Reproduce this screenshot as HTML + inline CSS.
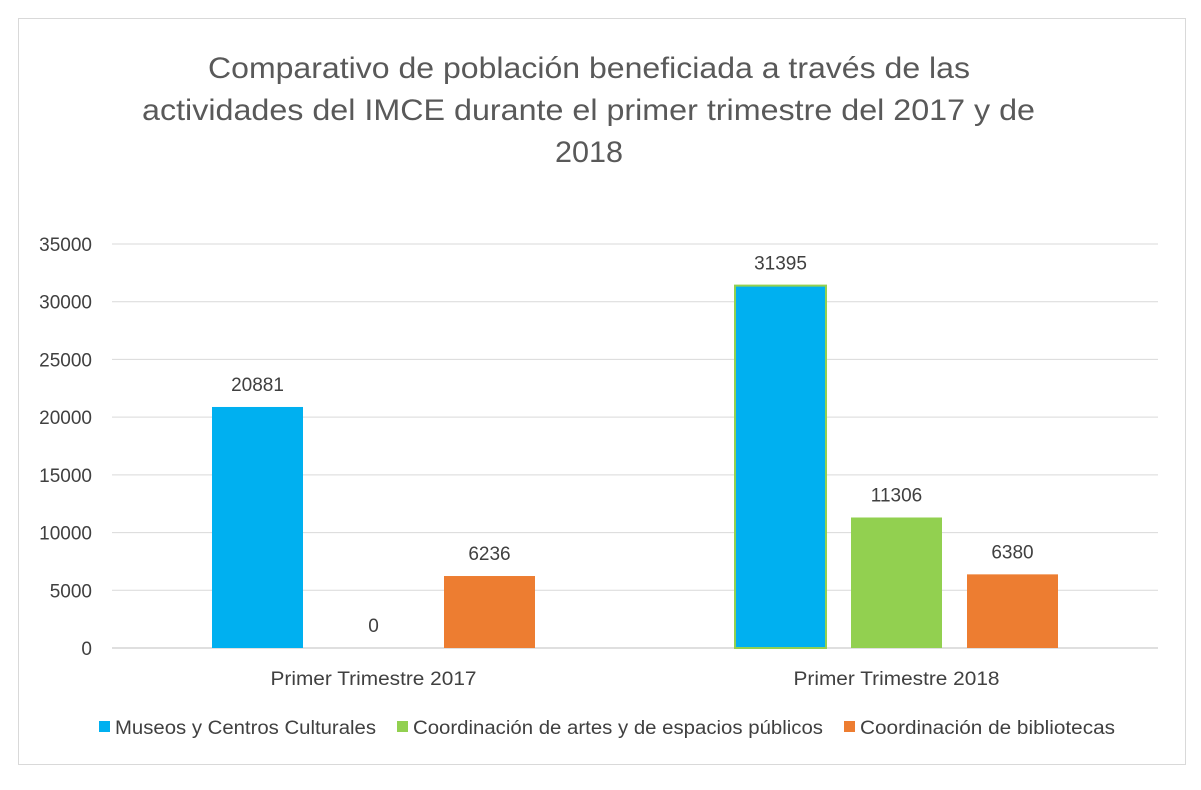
<!DOCTYPE html>
<html><head><meta charset="utf-8">
<style>
body{margin:0;background:#fff;}
svg text{font-family:"Liberation Sans",sans-serif;}
</style></head>
<body>
<svg id="chart" width="1201" height="785" xmlns="http://www.w3.org/2000/svg">
<rect x="18.5" y="18.5" width="1167" height="746" fill="#fff" stroke="#d9d9d9"/>
<g fill="#595959" font-size="30">
<text x="208" y="78" textLength="762" lengthAdjust="spacingAndGlyphs">Comparativo de población beneficiada a través de las</text>
<text x="142" y="120" textLength="893" lengthAdjust="spacingAndGlyphs">actividades del IMCE durante el primer trimestre del 2017 y de</text>
<text x="555" y="162" textLength="68" lengthAdjust="spacingAndGlyphs">2018</text>
</g>
<g id="grid"></g>
<g id="bars"></g>
<g id="labels"></g>
<g font-size="19" fill="#404040">
<g><rect x="99" y="721" width="11" height="11" fill="#00B0F0"/><text x="115" y="734" textLength="261" lengthAdjust="spacingAndGlyphs">Museos y Centros Culturales</text></g>
<g><rect x="397" y="721" width="11" height="11" fill="#92D050"/><text x="413" y="734" textLength="410" lengthAdjust="spacingAndGlyphs">Coordinación de artes y de espacios públicos</text></g>
<g><rect x="844" y="721" width="11" height="11" fill="#ED7D31"/><text x="860" y="734" textLength="255" lengthAdjust="spacingAndGlyphs">Coordinación de bibliotecas</text></g>
</g>
</svg>
<script>
const categories=["Primer Trimestre 2017","Primer Trimestre 2018"];
const museos=[20881,31395];
const artes=[0,11306];
const bibliotecas=[6236,6380];
const ticks=[0,5000,10000,15000,20000,25000,30000,35000];
const seriesNames=["museos","artes","bibliotecas"];
const colors=["#00B0F0","#92D050","#ED7D31"];
const NS="http://www.w3.org/2000/svg";
const x0=112,x1=1158,y0=648,yTop=244,maxV=35000;
const y=v=>y0-(v/maxV)*(y0-yTop);
const catW=(x1-x0)/categories.length;
const barW=91,gap=25;
function mk(tag,attrs,parent,txt){const e=document.createElementNS(NS,tag);for(const k in attrs)e.setAttribute(k,attrs[k]);if(txt!==undefined)e.textContent=txt;parent.appendChild(e);return e;}
const grid=document.getElementById('grid'),bars=document.getElementById('bars'),labels=document.getElementById('labels');
ticks.forEach(t=>{
  const l=mk('line',{x1:x0,x2:x1,y1:y(t),y2:y(t),stroke:t===0?'#bfbfbf':'#d9d9d9','stroke-width':1},grid);
  
  
  const tx=mk('text',{x:92,y:y(t)+7,'text-anchor':'end','font-size':19,fill:'#404040'},labels,String(t));
  
  
});
const series=[museos,artes,bibliotecas];
categories.forEach((c,i)=>{
  const cx=x0+catW*(i+0.5);
  const ct=mk('text',{x:cx,y:685,'text-anchor':'middle','font-size':19,fill:'#404040',textLength:206,lengthAdjust:'spacingAndGlyphs'},labels,c);
  
  
  series.forEach((s,j)=>{
    const bx=cx+(j-1)*(barW+gap)-barW/2;
    const v=s[i];
    const attrs={x:bx,y:y(v),width:barW,height:y0-y(v),fill:colors[j]};
    if(i===1&&j===0){attrs.stroke='#92D050';attrs['stroke-width']=2;}
    const r=mk('rect',attrs,bars);
    
    
    const lt=mk('text',{x:bx+barW/2,y:y(v)-16,'text-anchor':'middle','font-size':19,fill:'#404040'},labels,String(v));
    
    
  });
});
</script>
</body></html>
